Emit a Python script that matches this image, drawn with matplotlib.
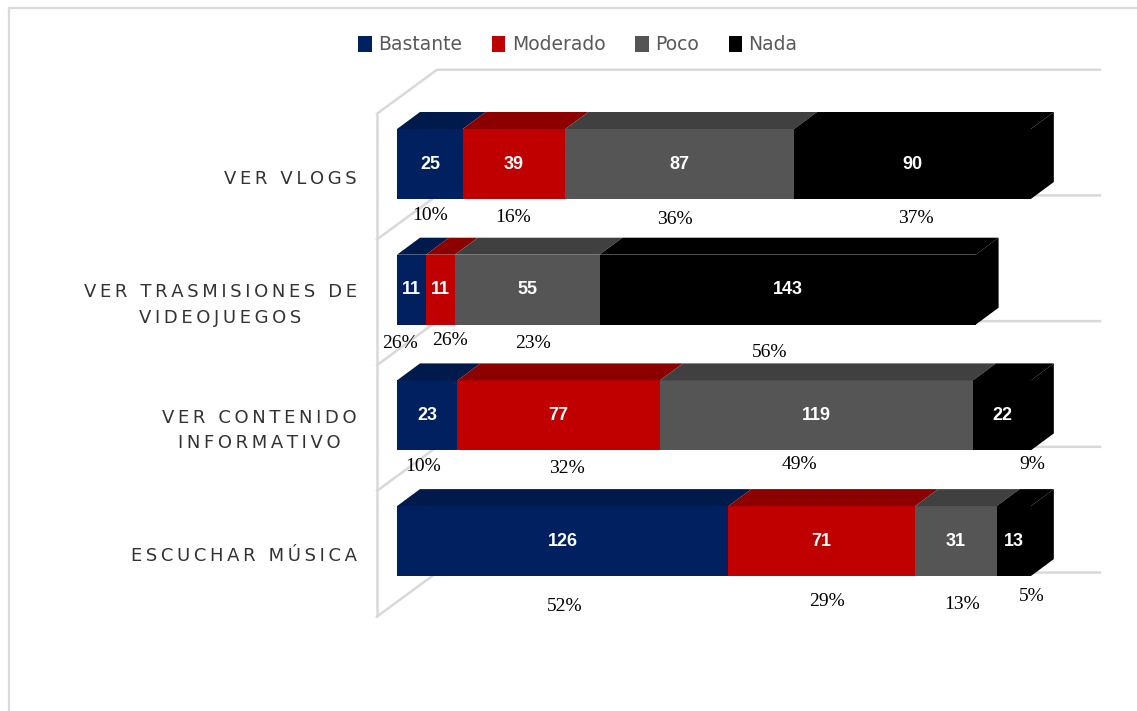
import numpy as np
import matplotlib
matplotlib.use("Agg")
import matplotlib.pyplot as plt
from matplotlib.patches import Polygon, Patch
from matplotlib.lines import Line2D

categories = ["VER VLOGS", "VER TRASMISIONES DE\nVIDEOJUEGOS",
              "VER CONTENIDO\nINFORMATIVO", "ESCUCHAR MÚSICA"]
series = ["Bastante", "Moderado", "Poco", "Nada"]
bastante = [25, 11, 23, 126]
moderado = [39, 11, 77, 71]
poco = [87, 55, 119, 31]
nada = [90, 143, 22, 13]

pct_bastante = ["10%", "26%", "10%", "52%"]
pct_moderado = ["16%", "26%", "32%", "29%"]
pct_poco = ["36%", "23%", "49%", "13%"]
pct_nada = ["37%", "56%", "9%", "5%"]

front_cols = ["#002060", "#C00000", "#555555", "#000000"]
top_cols = ["#001a4c", "#8c0000", "#404040", "#000000"]

# pixel nudges of the % labels (they sit a bit scattered in the original)
pct_nudge = [[(0, 16), (-1, 18), (-5, 20), (3, 19)],
             [(-11, 19), (10, 16), (6, 19), (-18, 28)],
             [(-4, 16), (8, 18), (-17, 14), (30, 14)],
             [(2, 30), (5, 25), (6, 28), (18, 20)]]

values = [bastante, moderado, poco, nada]
pcts = [pct_bastante, pct_moderado, pct_poco, pct_nada]

W, H = 1137, 711
fig = plt.figure(figsize=(W / 100, H / 100), dpi=100)
ax = fig.add_axes([0, 0, 1, 1])
sc = 2.63      # px per unit
rowpx = 125.7  # px per category
ax.set_xlim(-397 / sc, (W - 397) / sc)
ax.set_ylim((H - 164) / rowpx, -164 / rowpx)
ax.axis("off")

# outer chart border (only top/left visible)
fig.add_artist(Line2D([8.5 / W, 8.5 / W], [0, 1 - 8 / H], color="#d9d9d9", lw=1.6))
fig.add_artist(Line2D([8.5 / W, 1], [1 - 8 / H, 1 - 8 / H], color="#d9d9d9", lw=1.6))

# 3d depth
dx, dy = 23 / sc, 17 / rowpx
wx0 = -20 / sc
wdx, wdy = 60 / sc, 44 / rowpx
xend = (1100 - 397) / sc
fronts = np.arange(-0.4, 3.7, 1.0)
gc = "#d9d9d9"
ax.plot([wx0, wx0], [fronts[0], fronts[-1]], color=gc, lw=1.8, zorder=1, solid_capstyle="butt")
for f in fronts:
    ax.plot([wx0, wx0 + wdx, xend], [f, f - wdy, f - wdy], color=gc, lw=1.8, zorder=1)

h = 70 / rowpx
y = np.arange(len(categories))
left = np.zeros(len(categories))
for k, vals in enumerate(values):
    vals = np.array(vals, dtype=float)
    ax.barh(y, vals, left=left, height=h, color=front_cols[k], zorder=3)
    for i in range(len(categories)):
        x0, x1 = left[i], left[i] + vals[i]
        yt = y[i] - h / 2
        ax.add_patch(Polygon([(x0, yt), (x1, yt), (x1 + dx, yt - dy), (x0 + dx, yt - dy)],
                             closed=True, facecolor=top_cols[k], edgecolor="none", zorder=3))
        if k == len(values) - 1:
            yb = y[i] + h / 2
            ax.add_patch(Polygon([(x1, yt), (x1, yb), (x1 + dx, yb - dy), (x1 + dx, yt - dy)],
                                 closed=True, facecolor="#000000", edgecolor="none", zorder=3))
        ax.text((x0 + x1) / 2, y[i], str(int(vals[i])), color="white", fontsize=13,
                fontweight="bold", family="Liberation Sans", ha="center", va="center", zorder=5)
        nx, ny = pct_nudge[i][k]
        ax.annotate(pcts[k][i], xy=((x0 + x1) / 2, y[i] + h / 2), xytext=(nx, -ny),
                    textcoords="offset pixels", ha="center", va="center",
                    fontsize=14, family="Liberation Serif", color="black", zorder=5)
    left += vals

# category labels with letter spacing
for i, cat in enumerate(categories):
    spaced = "\n".join("\u2009".join(list(line)) for line in cat.split("\n"))
    ax.text(-40 / sc, y[i] + 0.12, spaced, ha="right", va="center", multialignment="center",
            fontsize=13, color="#333333", linespacing=1.55, family="DejaVu Sans")

handles = [Patch(facecolor=c, edgecolor="none") for c in front_cols]
leg = fig.legend(handles, series, loc="center", bbox_to_anchor=(578 / W, 1 - 45 / H), ncol=4,
                 frameon=False, fontsize=13.5, handlelength=0.7, handleheight=1.0,
                 handletextpad=0.35, columnspacing=1.6)
for t in leg.get_texts():
    t.set_color("#595959")

fig.savefig("out.png", dpi=100)
